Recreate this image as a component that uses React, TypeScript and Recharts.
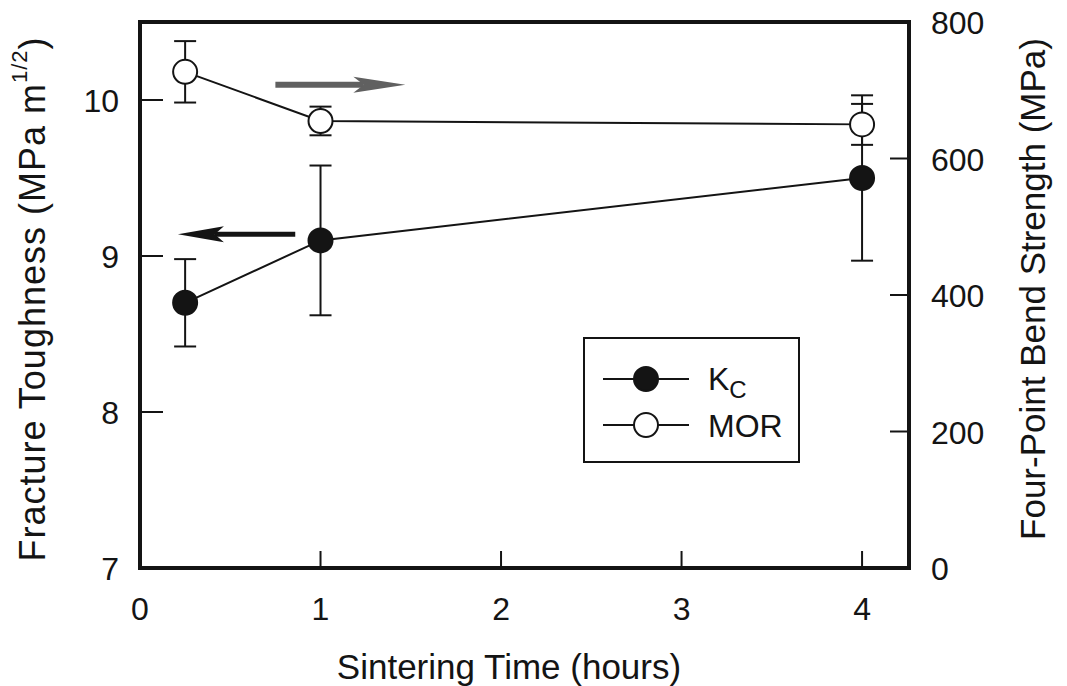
import React from "react";
import {
  LineChart,
  Line,
  XAxis,
  YAxis,
  ErrorBar,
  ReferenceLine,
  ReferenceArea,
  Legend,
} from "recharts";

// sintering time (hours)
const time = [0.25, 1, 4];
// fracture toughness Kc (MPa m^1/2)
const kcValues = [8.7, 9.1, 9.5];
const kcErrors = [0.28, 0.48, 0.53];
// four-point bend strength MOR (MPa)
const morValues = [727, 655, 650];
const morErrors = [45, 21, 30];

const xTicks = [0, 1, 2, 3, 4];
const kcTicks = [7, 8, 9, 10];
const morTicks = [0, 200, 400, 600, 800];

const xDomain = [0, 4.26];
const kcDomain = [7, 10.5];
const morDomain = [0, 800];

// arrows pointing to the axis each series belongs to (data coords)
const kcArrow = [
  { x: 0.86, y: 9.14 },
  { x: 0.21, y: 9.14 },
];
const morArrow = [
  { x: 0.75, y: 708 },
  { x: 1.47, y: 708 },
];

const data = time.map((t, i) => ({
  t,
  kc: kcValues[i],
  kcErr: kcErrors[i],
  mor: morValues[i],
  morErr: morErrors[i],
}));

const INK = "#141414";
const FONT = "'Liberation Sans', Arial, Helvetica, sans-serif";
const TICK_FS = 32;
const TITLE_FS = 35;

const axisLine = { stroke: INK, strokeWidth: 4, strokeLinecap: "square" as const };

const LeftTick = (props: any) => {
  const { x, y, payload } = props;
  const ax = x + 21;
  return (
    <g>
      <line x1={ax} y1={y} x2={ax + 23} y2={y} stroke={INK} strokeWidth={2} />
      <text x={x} y={y + 12} textAnchor="end" fontSize={TICK_FS} fill={INK} fontFamily={FONT}>
        {payload.value}
      </text>
    </g>
  );
};

const RightTick = (props: any) => {
  const { x, y, payload } = props;
  const ax = x - 22;
  return (
    <g>
      <line x1={ax} y1={y} x2={ax - 19} y2={y} stroke={INK} strokeWidth={2} />
      <text x={x} y={y + 12} textAnchor="start" fontSize={TICK_FS} fill={INK} fontFamily={FONT}>
        {payload.value}
      </text>
    </g>
  );
};

const BottomTick = (props: any) => {
  const { x, y, payload } = props;
  const ay = y - 30;
  return (
    <g>
      <line x1={x} y1={ay} x2={x} y2={ay - 17} stroke={INK} strokeWidth={2} />
      <text x={x} y={ay + 52} textAnchor="middle" fontSize={TICK_FS} fill={INK} fontFamily={FONT}>
        {payload.value}
      </text>
    </g>
  );
};

const makeArrow = (color: string, shaft: number, headLen: number, halfH: number) => (p: any) => {
  const { x1, y1, x2, y2 } = p;
  const dir = Math.sign(x2 - x1);
  const baseX = x2 - dir * headLen;
  const notchX = x2 - dir * headLen * 0.8;
  return (
    <g>
      <line x1={x1} y1={y1} x2={notchX} y2={y2} stroke={color} strokeWidth={shaft} />
      <polygon
        points={`${x2},${y2} ${baseX},${y2 - halfH} ${notchX},${y2} ${baseX},${y2 + halfH}`}
        fill={color}
      />
    </g>
  );
};

const LegendBox = () => (
  <svg width={217} height={126} style={{ display: "block" }}>
    <rect x={1} y={1} width={215} height={124} fill="#fff" stroke={INK} strokeWidth={2} />
    <line x1={20} y1={42} x2={106} y2={42} stroke={INK} strokeWidth={2} />
    <circle cx={63} cy={42} r={12} fill={INK} stroke={INK} strokeWidth={2} />
    <text x={125} y={53} fontSize={32} fill={INK} fontFamily={FONT}>
      K<tspan fontSize={24} dy={8}>C</tspan>
    </text>
    <line x1={20} y1={88} x2={106} y2={88} stroke={INK} strokeWidth={2} />
    <circle cx={63} cy={88} r={12} fill="#fff" stroke={INK} strokeWidth={2} />
    <text x={125} y={100} fontSize={32} fill={INK} fontFamily={FONT}>
      MOR
    </text>
  </svg>
);

export default function App() {
  return (
    <div style={{ width: 1059, height: 678, fontFamily: FONT, background: "#fff" }}>
      <LineChart width={1059} height={678} data={data} margin={{ top: 14, right: 0, bottom: 0, left: 0 }}>
        <XAxis
          dataKey="t"
          type="number"
          domain={xDomain}
          ticks={xTicks}
          height={118}
          axisLine={axisLine}
          tickLine={false}
          tickSize={0}
          tickMargin={30}
          tick={<BottomTick />}
          interval={0}
          label={{
            content: () => (
              <text x={501} y={671} textAnchor="middle" fontSize={TITLE_FS} fill={INK} fontFamily={FONT}>
                Sintering Time (hours)
              </text>
            ),
          }}
        />
        <YAxis
          yAxisId="left"
          orientation="left"
          domain={kcDomain}
          ticks={kcTicks}
          width={132}
          axisLine={axisLine}
          tickLine={false}
          tickSize={0}
          tickMargin={21}
          tick={<LeftTick />}
          interval={0}
          label={{
            content: () => (
              <text
                x={24}
                y={291}
                transform="rotate(-90, 24, 291)"
                textAnchor="middle"
                dominantBaseline="central"
                fontSize={36}
                letterSpacing={1}
                fill={INK}
                fontFamily={FONT}
              >
                Fracture Toughness (MPa m
                <tspan fontSize={22} dy={-13}>
                  1/2
                </tspan>
                <tspan dy={13}>)</tspan>
              </text>
            ),
          }}
        />
        <YAxis
          yAxisId="right"
          orientation="right"
          domain={morDomain}
          ticks={morTicks}
          width={158}
          axisLine={axisLine}
          tickLine={false}
          tickSize={0}
          tickMargin={22}
          tick={<RightTick />}
          interval={0}
          label={{
            content: () => (
              <text
                x={1024}
                y={281}
                transform="rotate(-90, 1024, 281)"
                textAnchor="middle"
                dominantBaseline="central"
                fontSize={TITLE_FS}
                fill={INK}
                fontFamily={FONT}
              >
                Four-Point Bend Strength (MPa)
              </text>
            ),
          }}
        />
        <ReferenceArea
          yAxisId="left"
          x1={xDomain[0]}
          x2={xDomain[1]}
          y1={kcDomain[0]}
          y2={kcDomain[1]}
          fill="none"
          fillOpacity={0}
          stroke={INK}
          strokeWidth={4}
          ifOverflow="visible"
        />
        <ReferenceLine
          yAxisId="left"
          segment={kcArrow}
          shape={makeArrow(INK, 5, 46, 8)}
        />
        <ReferenceLine
          yAxisId="right"
          segment={morArrow}
          shape={makeArrow("#606060", 6, 52, 8)}
        />
        <Line
          yAxisId="left"
          dataKey="kc"
          name="Kc"
          type="linear"
          stroke={INK}
          strokeWidth={2}
          dot={{ r: 12, fill: INK, stroke: INK, strokeWidth: 2 }}
          activeDot={false}
          isAnimationActive={false}
        >
          <ErrorBar dataKey="kcErr" direction="y" width={11} stroke={INK} strokeWidth={2} />
        </Line>
        <Line
          yAxisId="right"
          dataKey="mor"
          name="MOR"
          type="linear"
          stroke={INK}
          strokeWidth={2}
          dot={{ r: 12, fill: "#fff", stroke: INK, strokeWidth: 2 }}
          activeDot={false}
          isAnimationActive={false}
        >
          <ErrorBar dataKey="morErr" direction="y" width={11} stroke={INK} strokeWidth={2} />
        </Line>
        <Legend
          layout="vertical"
          align="center"
          verticalAlign="middle"
          content={() => <LegendBox />}
          wrapperStyle={{ position: "absolute", left: 575, top: 329, width: 217, height: 126 }}
        />
      </LineChart>
    </div>
  );
}
